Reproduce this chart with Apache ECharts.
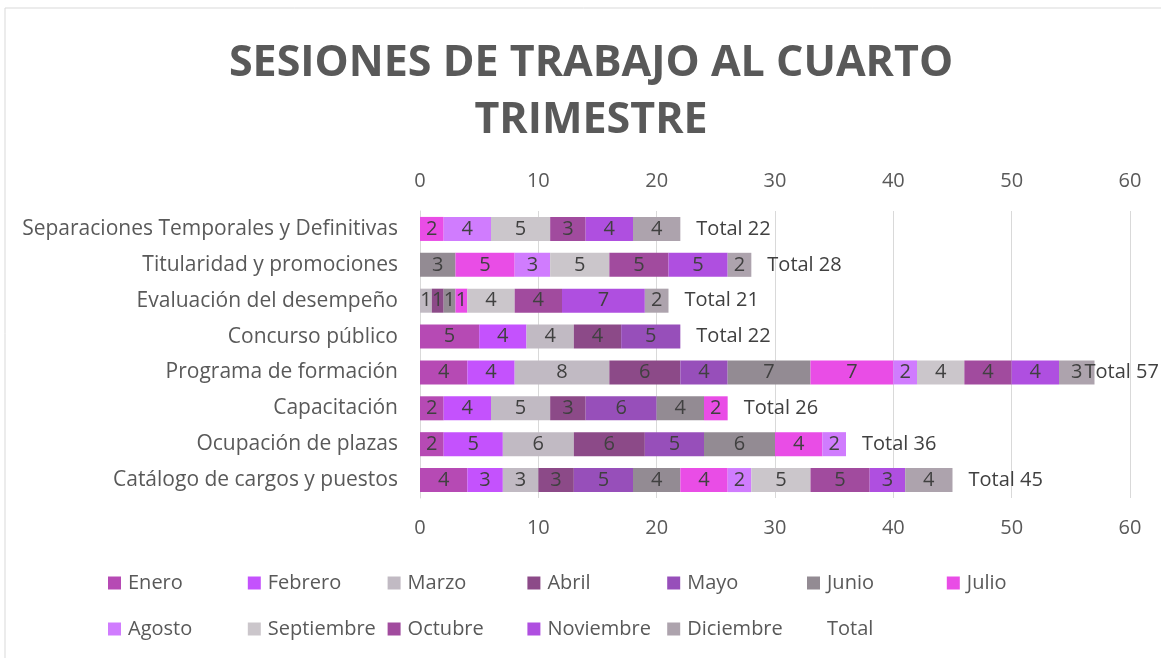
<!DOCTYPE html>
<html><head><meta charset="utf-8">
<script src="https://cdn.jsdelivr.net/npm/echarts@6/dist/echarts.min.js"></script>
<style>html,body{margin:0;padding:0;background:#fff}#c{width:1161px;height:658px}</style>
</head><body><div id="c"></div>
<script>
const categories = ["Separaciones Temporales y Definitivas","Titularidad y promociones","Evaluación del desempeño","Concurso público","Programa de formación","Capacitación","Ocupación de plazas","Catálogo de cargos y puestos"];
const months = ["Enero","Febrero","Marzo","Abril","Mayo","Junio","Julio","Agosto","Septiembre","Octubre","Noviembre","Diciembre"];
const Enero      = [0,0,0,5,4,2,2,4];
const Febrero    = [0,0,0,4,4,4,5,3];
const Marzo      = [0,0,1,4,8,5,6,3];
const Abril      = [0,0,1,4,6,3,6,3];
const Mayo       = [0,0,0,5,4,6,5,5];
const Junio      = [0,3,1,0,7,4,6,4];
const Julio      = [2,5,1,0,7,2,4,4];
const Agosto     = [4,3,0,0,2,0,2,2];
const Septiembre = [5,5,4,0,4,0,0,5];
const Octubre    = [3,5,4,0,4,0,0,5];
const Noviembre  = [4,5,7,0,4,0,0,3];
const Diciembre  = [4,2,2,0,3,0,0,4];
const Total      = [22,28,21,22,57,26,36,45];
const xTicks = [0,10,20,30,40,50,60];

const monthData = [Enero,Febrero,Marzo,Abril,Mayo,Junio,Julio,Agosto,Septiembre,Octubre,Noviembre,Diciembre];
const colors = ["#B64AB4","#C452FD","#C1BAC3","#8C4A88","#974FBA","#938B93","#E94DE6","#D07CFE","#CBC6CB","#A14B9E","#AF4FE0","#ADA3AD"];
const FONT = "'Open Sans', 'Noto Sans', sans-serif";

const series = months.map((m,i)=>({
  name:m, type:'bar', stack:'s', barWidth:'67%',
  data:monthData[i],
  itemStyle:{color:colors[i]},
  label:{show:true, position:'inside', color:'#404040', fontSize:20, fontFamily:FONT,
    formatter:p=> p.value ? String(p.value) : ''}
}));
series.push({
  name:'Total', type:'bar', barWidth:'67%', barGap:'-100%', z:5,
  data:Total.map(v=>({value:v, label:{distance: v>55 ? -10 : 16}})),
  itemStyle:{color:'transparent'},
  label:{show:true, position:'right', color:'#404040', fontSize:20, fontFamily:FONT,
    formatter:p=>'Total '+p.value}
});

const legendNames = months.concat(['Total']);
const legends = legendNames.map((n,i)=>({
  left: 108 + (i % 7) * 139.8, top: i < 7 ? 573 : 619, padding:0,
  data:[n], itemWidth:13, itemHeight:13, icon:'rect', selectedMode:false,
  textStyle:{fontSize:20, color:'#595959', fontFamily:FONT, padding:[0,0,0,2]}
}));

const chart = echarts.init(document.getElementById('c'));
chart.setOption({
  animation:false,
  backgroundColor:'#fff',
  title:{text:'SESIONES DE TRABAJO AL CUARTO\nTRIMESTRE', left:586, textAlign:'center', top:30,
    textStyle:{fontSize:43, fontWeight:'bold', color:'#595959', fontFamily:FONT, lineHeight:57}},
  graphic:[{type:'rect', shape:{x:5,y:8,width:1170,height:660}, style:{fill:'none', stroke:'#D9D9D9', lineWidth:1}, silent:true}],
  grid:{left:420, right:31, top:211, bottom:160},
  legend:legends,
  xAxis:[
    {type:'value', min:xTicks[0], max:xTicks[xTicks.length-1], interval:10, position:'bottom',
     axisLine:{show:false}, axisTick:{show:false},
     axisLabel:{fontSize:20, color:'#595959', fontFamily:FONT, margin:20},
     splitLine:{lineStyle:{color:'#D9D9D9', width:1}}},
    {type:'value', min:xTicks[0], max:xTicks[xTicks.length-1], interval:10, position:'top',
     axisLine:{show:false}, axisTick:{show:false},
     axisLabel:{fontSize:20, color:'#595959', fontFamily:FONT, margin:20},
     splitLine:{show:false}}
  ],
  yAxis:{type:'category', data:categories, inverse:true,
    axisLine:{show:true, lineStyle:{color:'#D9D9D9', width:1}}, axisTick:{show:false},
    axisLabel:{fontSize:21, color:'#595959', fontFamily:FONT, margin:22}},
  series:series
});
</script></body></html>
